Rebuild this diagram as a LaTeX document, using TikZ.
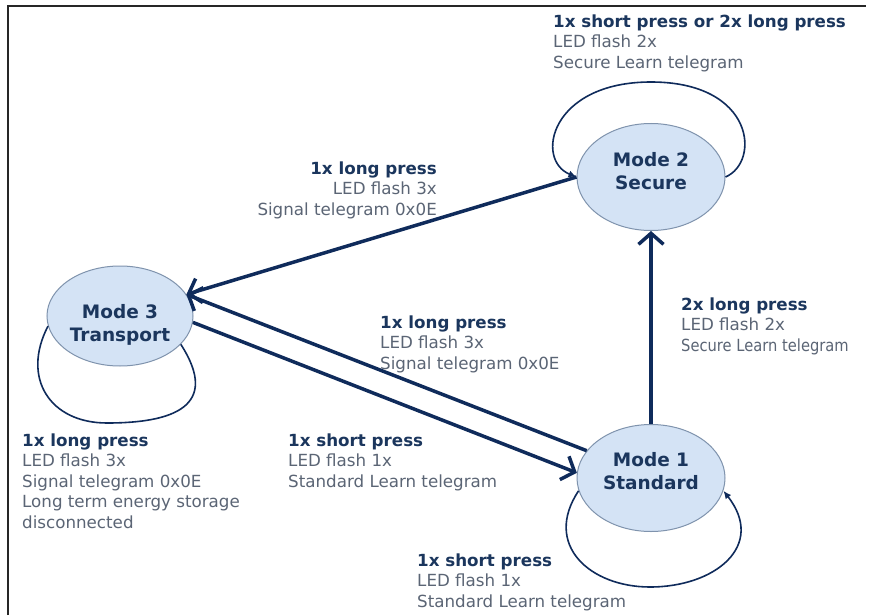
\documentclass[tikz,border=0pt]{standalone}
\usepackage{fontspec}
\usepackage{graphicx}
\setmainfont{DejaVu Sans}
\usetikzlibrary{arrows.meta,shapes.geometric}
\definecolor{navy}{HTML}{0F2B5B}
\definecolor{boldtxt}{HTML}{1B365D}
\definecolor{regtxt}{HTML}{5B6575}
\definecolor{efill}{HTML}{D4E3F5}
\definecolor{edraw}{HTML}{7F93AD}
\newcommand{\lblhead}[1]{{\bfseries\color{boldtxt}#1}}
\begin{document}
\begin{tikzpicture}[x=1pt,y=-1pt,
  mode/.style={ellipse, draw=edraw, line width=1pt, fill=efill, minimum width=148pt, minimum height=107pt, inner sep=0pt},
  modetxt/.style={font=\bfseries\fontsize{18.5}{23}\selectfont, text=boldtxt, align=center, inner sep=0pt},
  lbl/.style={inner sep=0pt, font=\fontsize{16.7}{20.5}\selectfont, text=regtxt},
  thickarrow/.style={draw=navy, line width=3.5pt, -{Straight Barb[length=11pt,width=25pt]}},
  loopline/.style={draw=navy, line width=1.6pt},
  looparrow/.style={loopline, -{Latex[length=8pt,width=7pt]}}]
\useasboundingbox (0,0) rectangle (869,615);
\fill[white] (0,0) rectangle (869,615);
\draw[line width=2pt, black!85] (8,615) -- (8,6) -- (866,6);

\node[mode, label={[modetxt,yshift=6pt]center:{Mode 2\\Secure}}] (m2) at (651,177) {};
\node[mode, label={[modetxt,yshift=7pt]center:{Mode 1\\Standard}}] (m1) at (651,478) {};
\node[mode, minimum width=146pt, minimum height=100pt, label={[modetxt,yshift=-9pt]center:{Mode 3\\Transport}}] (m3) at (120,316) {};

\coordinate (t2) at (651,82);
\coordinate (b1) at (650,587);
\coordinate (b3) at (107,423);

% self loops
\draw[looparrow] (m2.east) .. controls +(35,-15) and +(104,0) .. (t2)
  .. controls +(-101,0) and +(-42,-17) .. (m2.west);
\draw[looparrow] (m1.190) .. controls +(-36,54) and +(-60,0) .. (b1)
  .. controls +(65,0) and +(43,55) .. (m1.350);
\draw[loopline] (m3.188) .. controls +(-27,52) and +(-57,0) .. (b3)
  .. controls +(66,0) and +(40,62) .. (m3.335);

% transitions
\draw[thickarrow] (m2.west) -- (m3.18);
\draw[thickarrow] (m1.157) -- (m3.18);
\draw[thickarrow] (m3.355) -- (m1.176);
\draw[thickarrow] (m1.north) -- (m2.south);

% labels
\node[lbl, anchor=north west, align=left] (l2) at (553,14.5)
  {\lblhead{1x short press or 2x long press}\\LED flash 2x\\Secure Learn telegram};
\node[lbl, anchor=north east, align=right] (l23) at (437,161.5)
  {\lblhead{1x long press}\\LED flash 3x\\Signal telegram 0x0E};
\node[lbl, anchor=north west, align=left] (l13) at (380,315.5)
  {\lblhead{1x long press}\\LED flash 3x\\Signal telegram 0x0E};
\node[lbl, anchor=north west, align=left] (l31) at (288,433.5)
  {\lblhead{1x short press}\\LED flash 1x\\Standard Learn telegram};
\node[lbl, anchor=north west, align=left] (l3) at (22,433.5)
  {\lblhead{1x long press}\\LED flash 3x\\Signal telegram 0x0E\\Long term energy storage\\disconnected};
\node[lbl, anchor=north west, align=left] (l12) at (681,297.5)
  {\lblhead{2x long press}\\LED flash 2x\\\scalebox{0.88}[1]{Secure Learn telegram}};
\node[lbl, anchor=north west, align=left] (l1) at (417,553.5)
  {\lblhead{1x short press}\\LED flash 1x\\Standard Learn telegram};
\end{tikzpicture}
\end{document}
